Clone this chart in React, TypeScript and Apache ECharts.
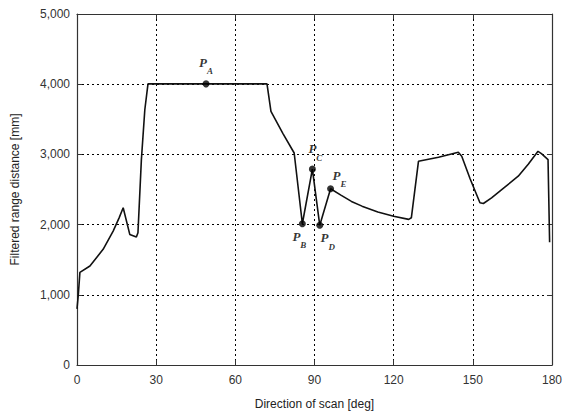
import React, { useEffect, useRef } from "react";
import * as echarts from "echarts";

const scanDeg = [0, 0.5, 1.1, 4.9, 9.9, 13.7, 16, 17.5, 20, 22.5, 23.1, 24.4, 25.7, 26.9, 72, 73.5, 78, 82.3, 85.4, 89.2, 92, 96.1, 100, 104, 108, 114, 120, 125.7, 126.7, 129.4, 137, 144.5, 145.8, 149, 152.7, 154, 157.1, 162, 167.2, 171, 174.7, 176, 178.5, 179.1];
const rangeMm = [800, 1000, 1320, 1410, 1648, 1908, 2100, 2240, 1860, 1822, 1885, 2926, 3636, 4005, 4005, 3612, 3300, 3020, 2012, 2790, 1990, 2510, 2420, 2330, 2263, 2180, 2120, 2074, 2097, 2902, 2960, 3030, 2973, 2650, 2311, 2301, 2382, 2530, 2689, 2860, 3044, 3010, 2926, 1750];

const pointNames = ["A", "B", "C", "D", "E"];
const pointDeg = [48.9, 85.4, 89.2, 92, 96.1];
const pointMm = [4005, 2012, 2790, 1990, 2510];

const xTicks = [0, 30, 60, 90, 120, 150, 180];
const yTicks = [0, 1000, 2000, 3000, 4000, 5000];

const labelOffsets: Record<string, [number, number]> = {
  A: [0, -18],
  B: [-3, 16],
  C: [3, -17],
  D: [8, 16],
  E: [9, -10],
};

export default function App() {
  const ref = useRef<HTMLDivElement>(null);
  useEffect(() => {
    if (!ref.current) return;
    const chart = echarts.init(ref.current, undefined, { renderer: "svg" });
    const gridLine = { show: true, lineStyle: { color: "#000", type: [2, 3] as any, width: 1 } };
    const axisLine = { show: true, onZero: false, lineStyle: { color: "#333", width: 1.2 } };
    const tick = { show: true, inside: true, length: 5, lineStyle: { color: "#333" } };
    const fontFamily = "Liberation Sans, Arial, sans-serif";
    chart.setOption({
      animation: false,
      backgroundColor: "#fff",
      grid: { left: 77, right: 12, top: 14, bottom: 49, containLabel: false },
      xAxis: [
        {
          type: "value",
          position: "bottom",
          min: xTicks[0],
          max: xTicks[xTicks.length - 1],
          interval: 30,
          name: "Direction of scan [deg]",
          nameLocation: "middle",
          nameGap: 33,
          nameTextStyle: { color: "#222", fontSize: 12, fontFamily },
          axisLine,
          axisTick: tick,
          axisLabel: { color: "#333", fontSize: 12, fontFamily, margin: 9 },
          splitLine: { ...gridLine, showMinLine: false, showMaxLine: false } as any,
        },
        {
          type: "value",
          position: "top",
          min: 0,
          max: 180,
          interval: 30,
          axisLine,
          axisTick: tick,
          axisLabel: { show: false },
          splitLine: { show: false },
        },
      ],
      yAxis: [
        {
          type: "value",
          position: "left",
          min: yTicks[0],
          max: yTicks[yTicks.length - 1],
          interval: 1000,
          name: "Filtered range distance [mm]",
          nameLocation: "middle",
          nameGap: 56,
          nameTextStyle: { color: "#222", fontSize: 12, fontFamily },
          axisLine,
          axisTick: tick,
          axisLabel: {
            color: "#333",
            fontSize: 12,
            fontFamily,
            margin: 7,
            formatter: (v: number) => v.toLocaleString("en-US"),
          },
          splitLine: { ...gridLine, showMinLine: false, showMaxLine: false } as any,
        },
        {
          type: "value",
          position: "right",
          min: 0,
          max: 5000,
          interval: 1000,
          axisLine,
          axisTick: tick,
          axisLabel: { show: false },
          splitLine: { show: false },
        },
      ],
      series: [
        {
          type: "line",
          data: scanDeg.map((d, i) => [d, rangeMm[i]]),
          symbol: "none",
          lineStyle: { color: "#111", width: 1.6 },
          z: 3,
        },
        {
          type: "scatter",
          symbol: "circle",
          symbolSize: 7,
          itemStyle: { color: "#000" },
          z: 4,
          data: pointNames.map((n, i) => ({
            value: [pointDeg[i], pointMm[i]],
            label: {
              show: true,
              position: "inside",
              offset: labelOffsets[n],
              formatter: `{p|P}{s|${n}}`,
              rich: {
                p: {
                  fontFamily: "Liberation Serif, Times New Roman, serif",
                  fontStyle: "italic",
                  fontWeight: "bold",
                  fontSize: 13,
                  color: "#000",
                  verticalAlign: "top",
                  lineHeight: 20,
                },
                s: {
                  fontFamily: "Liberation Serif, Times New Roman, serif",
                  fontStyle: "italic",
                  fontWeight: "bold",
                  fontSize: 9,
                  color: "#000",
                  verticalAlign: "bottom",
                  lineHeight: 20,
                  padding: [7, 0, 0, 0],
                },
              },
            },
          })),
        },
      ],
    });
    return () => chart.dispose();
  }, []);
  return <div ref={ref} style={{ width: 565, height: 415, position: "absolute", left: 0, top: 0 }} />;
}
